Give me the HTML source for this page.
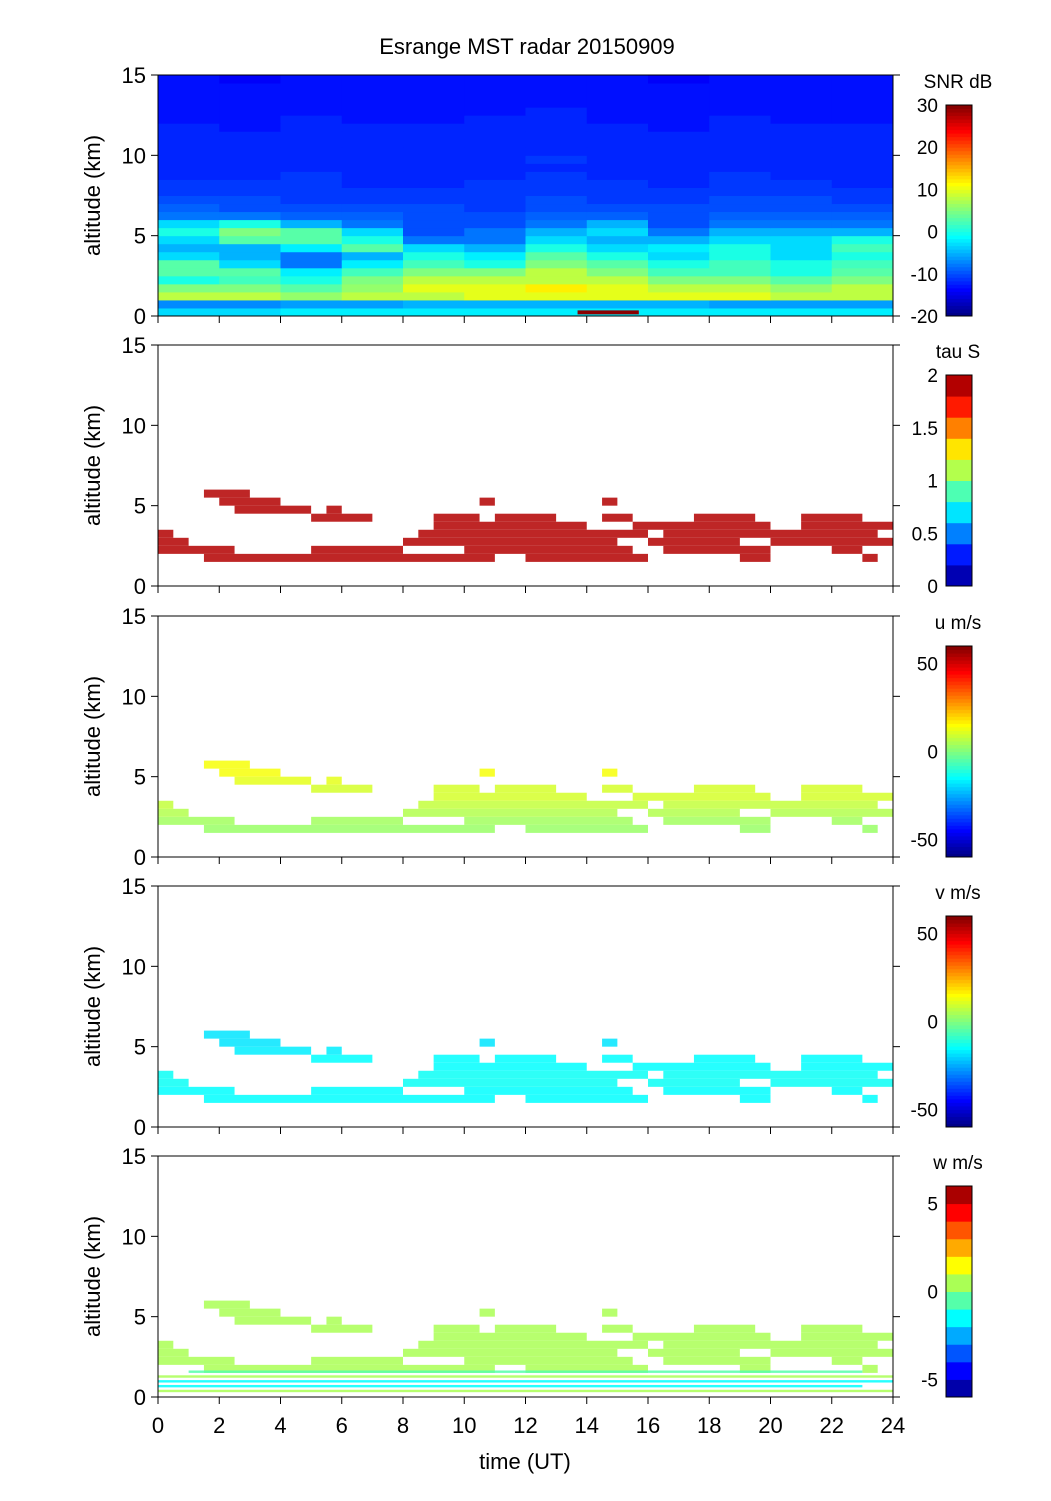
<!DOCTYPE html>
<html><head><meta charset="utf-8">
<style>
body{margin:0;background:#fff;}
svg{display:block;font-family:"Liberation Sans",Arial,sans-serif;}
</style></head>
<body>
<svg id="chart" width="1051" height="1501" viewBox="0 0 1051 1501" xmlns="http://www.w3.org/2000/svg">
<rect width="1051" height="1501" fill="#fff"/>
<text x="527" y="54" font-size="22" text-anchor="middle">Esrange MST radar 20150909</text>
<text x="525" y="1469" font-size="22" text-anchor="middle">time (UT)</text>
</svg>
<script>
// ---- data ----
const hourTicks=[0,2,4,6,8,10,12,14,16,18,20,22,24];
const altTicks=[0,5,10,15];
// SNR (dB) grid: rows 0.5 km from 0 km upward, columns 2-hour bins
const snrRows=[
[-3,-3,-2,-2,-2,-2,-2,-2,-2,-2,-2,-2],
[-7,-7,-6,-6,-5,-5,-5,-5,-5,-6,-6,-6],
[8,8,6,8,8,10,10,10,10,10,8,8],
[5,5,3,6,10,10,12,10,8,8,6,8],
[0,2,0,5,8,8,8,8,5,5,3,5],
[3,3,-2,2,5,5,8,5,2,2,0,3],
[3,-3,-8,-2,2,0,5,3,0,2,0,2],
[-3,-5,-8,-5,0,-2,3,0,-3,0,-3,0],
[-5,-5,-2,3,-3,-5,0,-3,-2,0,-3,2],
[-3,3,3,0,-8,-8,-3,-5,-5,-3,-3,0],
[0,5,3,-3,-10,-8,-5,-3,-8,-5,-5,-5],
[-3,0,-5,-8,-10,-10,-8,-5,-10,-8,-8,-8],
[-8,-8,-9,-9,-10,-10,-9,-9,-10,-9,-9,-9],
[-9,-10,-10,-10,-10,-11,-10,-10,-10,-10,-10,-10],
[-10,-10,-11,-11,-11,-11,-10,-11,-11,-10,-10,-11],
[-11,-11,-11,-11,-11,-11,-11,-11,-11,-11,-11,-11],
[-11,-11,-11,-12,-12,-11,-11,-11,-12,-11,-11,-12],
[-12,-12,-11,-12,-12,-12,-11,-12,-12,-11,-12,-12],
[-12,-12,-12,-12,-12,-12,-12,-12,-12,-12,-12,-12],
[-12,-12,-12,-12,-12,-12,-11,-12,-12,-12,-12,-12],
[-12,-12,-12,-12,-12,-12,-12,-12,-12,-12,-12,-12],
[-12,-12,-12,-12,-12,-12,-12,-12,-12,-12,-12,-12],
[-12,-12,-12,-12,-12,-12,-12,-12,-12,-12,-12,-12],
[-12,-13,-12,-12,-12,-12,-12,-12,-13,-12,-12,-12],
[-13,-13,-12,-13,-13,-12,-12,-13,-13,-12,-13,-13],
[-13,-13,-13,-13,-13,-13,-12,-13,-13,-13,-13,-13],
[-13,-13,-13,-13,-13,-13,-13,-13,-13,-13,-13,-13],
[-13,-13,-13,-13,-13,-13,-13,-13,-13,-13,-13,-13],
[-13,-13,-13,-13,-13,-13,-13,-13,-13,-13,-13,-13],
[-13,-14,-13,-13,-13,-13,-13,-13,-14,-13,-13,-13]
];
// echo layers: altitude bin base (km, 0.5 km thick) and time segments (h)
const layerAlts=[1.5,2.0,2.5,3.0,3.5,4.0,4.5,5.0,5.5];
const layerSegs=[
[[1.5,11],[12,16],[19,20],[23,23.5]],
[[0,2.5],[5,8],[10,15.5],[16.5,20],[22,23]],
[[0,1],[8,15],[16,19],[20,24]],
[[0,0.5],[8.5,16],[16.5,23.5]],
[[9,14],[15.5,20],[21,24]],
[[5,7],[9,10.5],[11,13],[14.5,15.5],[17.5,19.5],[21,23]],
[[2.5,5],[5.5,6]],
[[2,4],[10.5,11],[14.5,15]],
[[1.5,3]]
];
const tauByLayer=[1.9,1.9,2,2,2,2,2,1.9,1.9];
const uByLayer=[3,4,6,8,10,10,12,14,14];
const vByLayer=[-15,-15,-14,-14,-15,-15,-17,-18,-18];
const wByLayer=[0,0,0.5,0,0,0,0.5,0,0];
// w panel extra low stripes
const wStripeAlts=[0.3,0.6,0.9,1.2,1.5];
const wStripeVals=[0,-2,-1.5,0,-1];
const wStripeSegs=[[[0,24]],[[0,23]],[[0,24]],[[0,24]],[[1,23]]];

// ---- axes ----
const X0=158,X1=893,PH=241;
const panelTops=[75,345,616,886,1156];
function xs(t){return X0+t*(X1-X0)/24;}
function ys(p,a){return panelTops[p]+(15-a)*PH/15;}
function jet(f){f=Math.max(0,Math.min(1,f));
 const r=Math.max(0,Math.min(1,1.5-Math.abs(4*f-3))),g=Math.max(0,Math.min(1,1.5-Math.abs(4*f-2))),b=Math.max(0,Math.min(1,1.5-Math.abs(4*f-1)));
 return `rgb(${Math.round(r*255)},${Math.round(g*255)},${Math.round(b*255)})`;}
function jetSteps(f,n){f=Math.max(0,Math.min(0.9999,f));return jet((Math.floor(f*n)+0.5)/n);}
const NS="http://www.w3.org/2000/svg";
const svg=document.getElementById('chart');
function mk(tag,attrs,parent){const e=document.createElementNS(NS,tag);for(const k in attrs)e.setAttribute(k,attrs[k]);(parent||svg).appendChild(e);return e;}

const panels=[
 {label:'SNR dB',min:-20,max:30,ticks:[-20,-10,0,10,20,30],steps:0,name:'snr'},
 {label:'tau S',min:0,max:2,ticks:[0,0.5,1,1.5,2],steps:10,name:'tau'},
 {label:'u m/s',min:-60,max:60,ticks:[-50,0,50],steps:0,name:'u'},
 {label:'v m/s',min:-60,max:60,ticks:[-50,0,50],steps:0,name:'v'},
 {label:'w m/s',min:-6,max:6,ticks:[-5,0,5],steps:12,name:'w'}
];
function col(p,v){const P=panels[p];const f=(v-P.min)/(P.max-P.min);return P.steps?jetSteps(f,P.steps):jet(f);}

// SNR heatmap
const g0=mk('g',{});


snrRows.forEach((row,i)=>{row.forEach((v,j)=>{
 const r=mk('rect',{x:xs(j*2),y:ys(0,(i+1)*0.5),width:xs(2)-xs(0)+0.5,height:ys(0,0)-ys(0,0.5)+0.5,fill:col(0,v)},g0);
 
 
});});
const bar=mk('rect',{x:xs(13.7),y:ys(0,0.35),width:xs(15.7)-xs(13.7),height:4,fill:'#8b0000'});



// layer panels
const layerVals=[null,tauByLayer,uByLayer,vByLayer,wByLayer];
for(let p=1;p<5;p++){
 const g=mk('g',{});
 
 
 layerAlts.forEach((a,i)=>{layerSegs[i].forEach(s=>{
  const r=mk('rect',{x:xs(s[0]),y:ys(p,a+0.5),width:xs(s[1])-xs(s[0]),height:ys(p,a)-ys(p,a+0.5),fill:col(p,layerVals[p][i]),'fill-opacity':0.85},g);
  
  
 });});
 if(p===4){wStripeAlts.forEach((a,i)=>{wStripeSegs[i].forEach(s=>{
  const r=mk('rect',{x:xs(s[0]),y:ys(p,a+0.15),width:xs(s[1])-xs(s[0]),height:ys(p,a)-ys(p,a+0.15),fill:col(p,wStripeVals[i]),'fill-opacity':0.85},g);
  
  
 });});}
}

// axes, ticks, colorbars
panels.forEach((P,p)=>{
 const top=panelTops[p],bot=top+PH;
 const ax=mk('rect',{x:X0,y:top,width:X1-X0,height:PH,fill:'none',stroke:'#000','stroke-width':1});
 
 
 altTicks.forEach(a=>{
  const y=ys(p,a);
  mk('line',{x1:X0-7,x2:X0,y1:y,y2:y,stroke:'#000'});
  mk('line',{x1:X1,x2:X1+7,y1:y,y2:y,stroke:'#000'});
  const t=mk('text',{x:X0-12,y:y+8,'font-size':22,'text-anchor':'end'});t.textContent=a;
  
  
 });
 hourTicks.forEach(h=>{mk('line',{x1:xs(h),x2:xs(h),y1:bot,y2:bot+7,stroke:'#000'});});
 const yt=mk('text',{x:0,y:0,'font-size':22,'text-anchor':'middle',transform:`translate(100,${top+PH/2}) rotate(-90)`});
 yt.textContent='altitude (km)';
 
 
 // colorbar
 const cbT=top+30,cbB=bot,cx=946,cw=26;
 const cg=mk('g',{});
 
 
 const n=P.steps||60;
 for(let k=0;k<n;k++){
  const y0=cbB-(k+1)*(cbB-cbT)/n;
  mk('rect',{x:cx,y:y0,width:cw,height:(cbB-cbT)/n+0.5,fill:jet((k+0.5)/n)},cg);
 }
 mk('rect',{x:cx,y:cbT,width:cw,height:cbB-cbT,fill:'none',stroke:'#000'},cg);
 P.ticks.forEach(v=>{
  const y=cbB-(v-P.min)/(P.max-P.min)*(cbB-cbT);
  const t=mk('text',{x:938,y:y+7,'font-size':19,'text-anchor':'end'},cg);t.textContent=v;
 });
 const lt=mk('text',{x:958,y:cbT-17,'font-size':19,'text-anchor':'middle'},cg);lt.textContent=P.label;
});
hourTicks.forEach(h=>{
 const t=mk('text',{x:xs(h),y:1405+28,'font-size':22,'text-anchor':'middle'});t.textContent=h;
 
 
});
</script>
</body></html>
